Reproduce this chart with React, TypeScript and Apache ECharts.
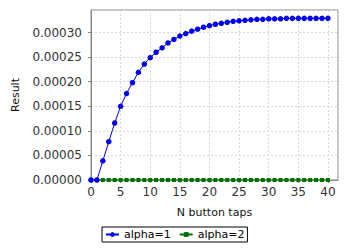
import React, { useEffect, useRef } from "react";
import * as echarts from "echarts";

const taps: number[] = [
  0, 1, 2, 3, 4, 5, 6, 7, 8, 9, 10, 11, 12, 13, 14, 15, 16, 17, 18, 19, 20,
  21, 22, 23, 24, 25, 26, 27, 28, 29, 30, 31, 32, 33, 34, 35, 36, 37, 38, 39, 40,
];

const alpha1: number[] = [
  0, 0, 0.000039, 0.000078, 0.000116, 0.00015, 0.000176, 0.000198, 0.000219,
  0.000236, 0.000249, 0.00026, 0.000269, 0.000279, 0.000286, 0.000293,
  0.000298, 0.000303, 0.000307, 0.000311, 0.000314, 0.000317, 0.000319,
  0.000321, 0.000323, 0.000324, 0.000325, 0.000326, 0.000327, 0.000327,
  0.000328, 0.000328, 0.000328, 0.000329, 0.000329, 0.000329, 0.000329,
  0.000329, 0.000329, 0.000329, 0.000329,
];

const alpha2: number[] = [
  0, 0, 0, 0, 0, 0, 0, 0, 0, 0, 0, 0, 0, 0, 0, 0, 0, 0, 0, 0, 0,
  0, 0, 0, 0, 0, 0, 0, 0, 0, 0, 0, 0, 0, 0, 0, 0, 0, 0, 0, 0,
];

const seriesNames = ["alpha=1", "alpha=2"];
const xTitle = "N button taps";
const yTitle = "Result";

export default function App() {
  const ref = useRef<HTMLDivElement>(null);

  useEffect(() => {
    if (!ref.current) return;
    const chart = echarts.init(ref.current, undefined, { renderer: "svg" });
    const font = "DejaVu Sans";
    const gridLine = {
      show: true,
      lineStyle: { color: "#d8d8d8", type: [2, 2] as any, width: 1 },
    };
    chart.setOption({
      animation: false,
      backgroundColor: "#ffffff",
      grid: {
        left: 91,
        right: 12,
        top: 10,
        bottom: 70,
        show: true,
        borderColor: "#888888",
        borderWidth: 1,
        backgroundColor: "#ffffff",
      },
      legend: {
        data: seriesNames,
        left: 102,
        top: 227,
        orient: "horizontal",
        itemWidth: 13,
        itemHeight: 6,
        itemGap: 8,
        padding: [2, 3],
        borderColor: "#000000",
        borderWidth: 1,
        textStyle: { fontFamily: font, fontSize: 11, color: "#000000" },
      },
      xAxis: {
        type: "value",
        min: 0,
        max: 41.7,
        interval: 5,
        name: xTitle,
        nameLocation: "middle",
        nameGap: 27,
        nameTextStyle: { fontFamily: font, fontSize: 11, color: "#111111" },
        axisLine: { show: true, onZero: false, lineStyle: { color: "#888888" } },
        axisTick: { show: true, length: 3, lineStyle: { color: "#888888" } },
        axisLabel: {
          fontFamily: font,
          fontSize: 12,
          color: "#333333",
          margin: 6,
          showMaxLabel: false,
        },
        splitLine: gridLine,
      },
      yAxis: {
        type: "value",
        min: 0,
        max: 0.000346,
        interval: 0.00005,
        name: yTitle,
        nameLocation: "middle",
        nameGap: 64,
        nameTextStyle: { fontFamily: font, fontSize: 11, color: "#111111" },
        axisLine: { show: true, lineStyle: { color: "#888888" } },
        axisTick: { show: true, length: 3, lineStyle: { color: "#888888" } },
        axisLabel: {
          fontFamily: font,
          fontSize: 12,
          color: "#333333",
          margin: 9,
          showMaxLabel: false,
          formatter: (v: number) => v.toFixed(5),
        },
        splitLine: gridLine,
      },
      series: [
        {
          name: seriesNames[1],
          type: "line",
          data: taps.map((t, i) => [t, alpha2[i]]),
          symbol: "rect",
          symbolSize: 4,
          showAllSymbol: true,
          itemStyle: { color: "#007000" },
          lineStyle: { color: "#007000", width: 1 },
          z: 2,
        },
        {
          name: seriesNames[0],
          type: "line",
          data: taps.map((t, i) => [t, alpha1[i]]),
          symbol: "circle",
          symbolSize: 5.5,
          showAllSymbol: true,
          itemStyle: { color: "#0000ee" },
          lineStyle: { color: "#0000ee", width: 1 },
          z: 3,
        },
      ],
    });
    return () => chart.dispose();
  }, []);

  return (
    <div
      ref={ref}
      style={{ width: 350, height: 250, position: "absolute", left: 0, top: 0 }}
    />
  );
}
